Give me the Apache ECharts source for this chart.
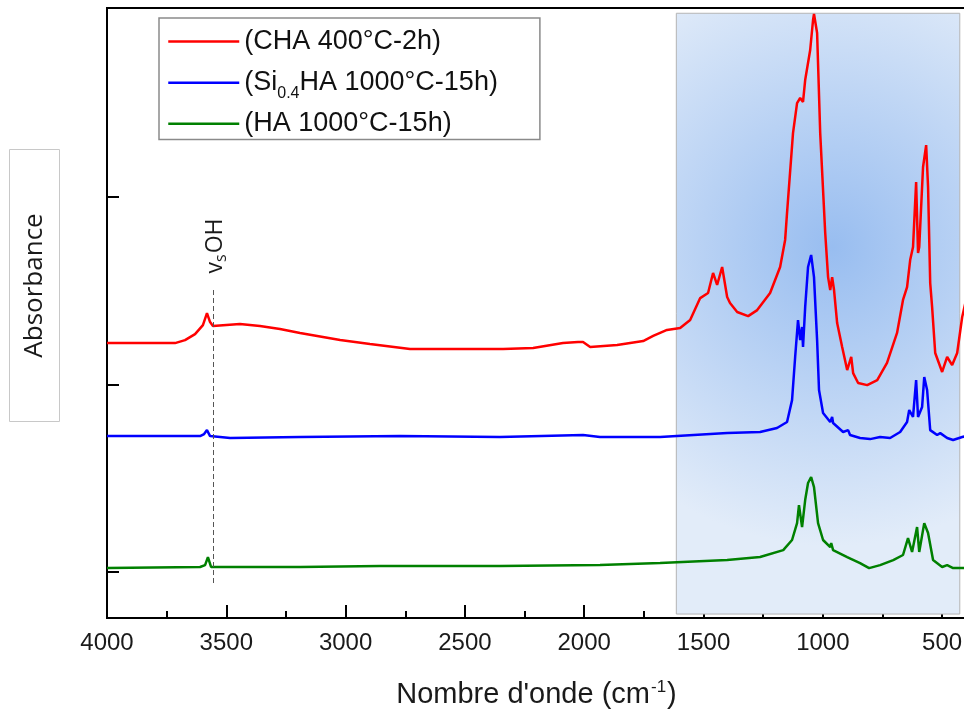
<!DOCTYPE html>
<html>
<head>
<meta charset="utf-8">
<script src="https://cdn.jsdelivr.net/npm/echarts@6/dist/echarts.min.js"></script>
<style>html,body{margin:0;padding:0;background:#fff}#c{width:964px;height:715px}</style>
</head>
<body>
<div id="c"></div>
<script>
// ---- data (wavenumber cm-1, absorbance a.u. with vertical offsets as drawn) ----
const seriesNames = ['(CHA 400°C-2h)', '(Si0.4HA 1000°C-15h)', '(HA 1000°C-15h)'];
const xTickValues = [500, 1000, 1500, 2000, 2500, 3000, 3500, 4000];
const xMinorTickValues = [750, 1250, 1750, 2250, 2750, 3250, 3750];
const yTickValues = [0, 1, 2];

const redWn = [4000,3715,3673,3631,3598,3581,3568,3556,3443,3359,3275,3191,3023,2898,2730,2562,2340,2214,2089,2026,2005,1975,1862,1753,1711,1653,1598,1556,1514,1481,1460,1443,1422,1401,1389,1359,1313,1275,1221,1179,1158,1150,1125,1108,1095,1083,1074,1053,1041,1037,1024,1011,990,978,969,961,953,940,919,898,881,873,852,814,772,731,689,664,647,634,622,609,601,596,580,567,559,550,542,529,500,479,458,437,416,400];
const redAbs = [1.221,1.221,1.237,1.269,1.317,1.381,1.333,1.312,1.323,1.312,1.296,1.275,1.237,1.216,1.189,1.189,1.189,1.195,1.221,1.227,1.227,1.200,1.211,1.232,1.259,1.291,1.301,1.344,1.461,1.488,1.595,1.531,1.627,1.467,1.435,1.387,1.365,1.397,1.488,1.627,1.771,1.915,2.341,2.501,2.528,2.507,2.624,2.784,2.944,2.976,2.875,2.341,1.808,1.573,1.504,1.573,1.504,1.328,1.200,1.077,1.147,1.061,1.008,0.997,1.024,1.115,1.275,1.451,1.520,1.664,1.733,2.080,1.701,1.733,2.160,2.277,2.053,1.541,1.413,1.168,1.067,1.147,1.104,1.168,1.360,1.451];

const blueWn = [4000,3610,3593,3581,3568,3484,3191,2772,2353,2005,1934,1682,1401,1263,1192,1150,1129,1116,1104,1095,1087,1083,1074,1062,1049,1037,1024,1016,999,969,961,957,915,894,886,844,802,760,718,676,647,638,622,609,601,584,575,563,550,521,508,479,454,416,400];
const blueAbs = [0.725,0.725,0.736,0.757,0.725,0.715,0.720,0.725,0.720,0.731,0.720,0.720,0.741,0.747,0.768,0.800,0.917,1.147,1.344,1.237,1.307,1.200,1.413,1.627,1.691,1.573,1.237,0.971,0.848,0.800,0.827,0.795,0.747,0.757,0.731,0.715,0.709,0.720,0.715,0.747,0.800,0.864,0.827,1.024,0.827,0.880,1.040,0.971,0.757,0.731,0.741,0.715,0.704,0.720,0.725];

const greenWn = [4000,3610,3589,3577,3564,3191,2856,2353,1934,1682,1401,1263,1166,1129,1108,1100,1087,1074,1062,1049,1037,1020,999,969,965,957,898,844,806,760,705,664,643,626,605,596,575,559,538,500,479,454,400];
const greenAbs = [0.021,0.027,0.037,0.080,0.027,0.027,0.032,0.032,0.037,0.048,0.064,0.080,0.117,0.171,0.261,0.357,0.240,0.384,0.475,0.507,0.453,0.261,0.171,0.133,0.155,0.117,0.080,0.048,0.021,0.037,0.064,0.091,0.181,0.107,0.240,0.107,0.261,0.208,0.064,0.027,0.037,0.021,0.021];

const shadeRange = { x: [1614, 426], y: [-0.224, 2.98] };
const ohLine = { x: 3555, y: [1.504, -0.069] };

function pairs(xs, ys) { return xs.map((x, i) => [x, ys[i]]); }

const chart = echarts.init(document.getElementById('c'));
const FONT = '"Liberation Sans", Arial, sans-serif';
const colors = ['#ff0000', '#0000ff', '#008000'];

chart.setOption({
  animation: false,
  backgroundColor: '#fff',
  grid: { left: 107, top: 8, width: 859, height: 610, containLabel: false, outerBoundsMode: 'none',
          show: true, borderColor: '#000', borderWidth: 2, backgroundColor: 'transparent' },
  legend: {
    data: seriesNames,
    orient: 'vertical',
    left: 159, top: 18,
    padding: [10, 42, 2, 8],
    itemGap: 8.5,
    itemWidth: 71, itemHeight: 34,
    borderColor: '#8a8a8a', borderWidth: 1.5,
    backgroundColor: '#fff',
    itemStyle: { opacity: 0 },
    lineStyle: { width: 2.5 },
    formatter: function (n) { return n === seriesNames[1] ? '{m|(Si}{sub|0.4}{m|HA 1000°C-15h)}' : '{m|' + n + '}'; },
    textStyle: {
      rich: {
        m: { fontFamily: FONT, fontSize: 27, color: '#111', lineHeight: 34 },
        sub: { fontFamily: FONT, fontSize: 16, color: '#111', lineHeight: 18, padding: [22, 0, 0, 0] }
      }
    }
  },
  xAxis: [{
    type: 'value', min: 400, max: 4000, inverse: true,
    axisLine: { onZero: false, lineStyle: { color: '#000', width: 2 } },
    axisTick: { inside: true, length: 13, customValues: xTickValues, lineStyle: { color: '#000', width: 2 } },
    axisLabel: { customValues: xTickValues, formatter: v => String(v), fontFamily: FONT, fontSize: 24, color: '#1a1a1a', margin: 13 },
    splitLine: { show: false },
    name: "{t|Nombre d'onde (cm}{sup|-1}{t|)}",
    nameLocation: 'middle', nameGap: 61,
    nameTextStyle: { rich: {
      t: { fontFamily: FONT, fontSize: 29, color: '#1a1a1a', lineHeight: 32 },
      sup: { fontFamily: FONT, fontSize: 17, color: '#1a1a1a', lineHeight: 18, padding: [0, 1, 16, 1] }
    } }
  }, {
    type: 'value', min: 400, max: 4000, inverse: true, position: 'bottom',
    axisLine: { show: false, onZero: false },
    axisTick: { inside: true, length: 7, customValues: xMinorTickValues, lineStyle: { color: '#000', width: 2 } },
    axisLabel: { show: false }, splitLine: { show: false }
  }],
  yAxis: {
    type: 'value', min: -0.245, max: 3.008,
    axisLine: { show: true, onZero: false, lineStyle: { color: '#000', width: 2 } },
    axisTick: { show: true, inside: true, length: 12, customValues: yTickValues, lineStyle: { color: '#000', width: 2 } },
    axisLabel: { show: false },
    splitLine: { show: false }
  },
  graphic: [{
    type: 'group', left: 9, top: 149,
    children: [
      { type: 'rect', shape: { x: 0, y: 0, width: 50, height: 272 }, style: { fill: '#fff', stroke: '#c8c8c8', lineWidth: 1 } },
      { type: 'text', x: 25, y: 136, rotation: Math.PI / 2,
        style: { text: 'Absorbance', fontFamily: '"Open Sans", sans-serif', fontSize: 26, fill: '#1a1a1a', align: 'center', verticalAlign: 'middle' } }
    ]
  }, {
    type: 'text', x: 215, y: 246, rotation: Math.PI / 2, z: 10,
    style: {
      text: '{a|v}{s|s}{a|OH}', align: 'center', verticalAlign: 'middle',
      rich: {
        a: { fontFamily: '"Open Sans", sans-serif', fontSize: 23, fill: '#1a1a1a', lineHeight: 26 },
        s: { fontFamily: '"Open Sans", sans-serif', fontSize: 16, fill: '#1a1a1a', lineHeight: 16, padding: [12, 1, 0, 0] }
      }
    }
  }],
  series: [{
    type: 'line', data: [], z: 1, silent: true,
    markArea: {
      silent: true,
      itemStyle: {
        color: new echarts.graphic.RadialGradient(0.55, 0.39, 1.05, [
          { offset: 0, color: '#98bdf0' },
          { offset: 1, color: '#e2ecf9' }
        ]),
        borderColor: '#b4b4b4', borderWidth: 1
      },
      data: [[{ xAxis: shadeRange.x[0], yAxis: shadeRange.y[1] }, { xAxis: shadeRange.x[1], yAxis: shadeRange.y[0] }]]
    }
  }, {
    name: seriesNames[0], type: 'line', data: pairs(redWn, redAbs), showSymbol: false, symbol: 'none',
    lineStyle: { color: colors[0], width: 2.5 }, itemStyle: { color: colors[0] }, z: 3,
    markLine: {
      silent: true, symbol: 'none', label: { show: false },
      lineStyle: { color: '#555', type: [5, 3], width: 1 },
      data: [[{ coord: [ohLine.x, ohLine.y[0]] }, { coord: [ohLine.x, ohLine.y[1]] }]]
    }
  }, {
    name: seriesNames[1], type: 'line', data: pairs(blueWn, blueAbs), showSymbol: false, symbol: 'none',
    lineStyle: { color: colors[1], width: 2.5 }, itemStyle: { color: colors[1] }, z: 3
  }, {
    name: seriesNames[2], type: 'line', data: pairs(greenWn, greenAbs), showSymbol: false, symbol: 'none',
    lineStyle: { color: colors[2], width: 2.5 }, itemStyle: { color: colors[2] }, z: 3
  }]
});
</script>
</body>
</html>
